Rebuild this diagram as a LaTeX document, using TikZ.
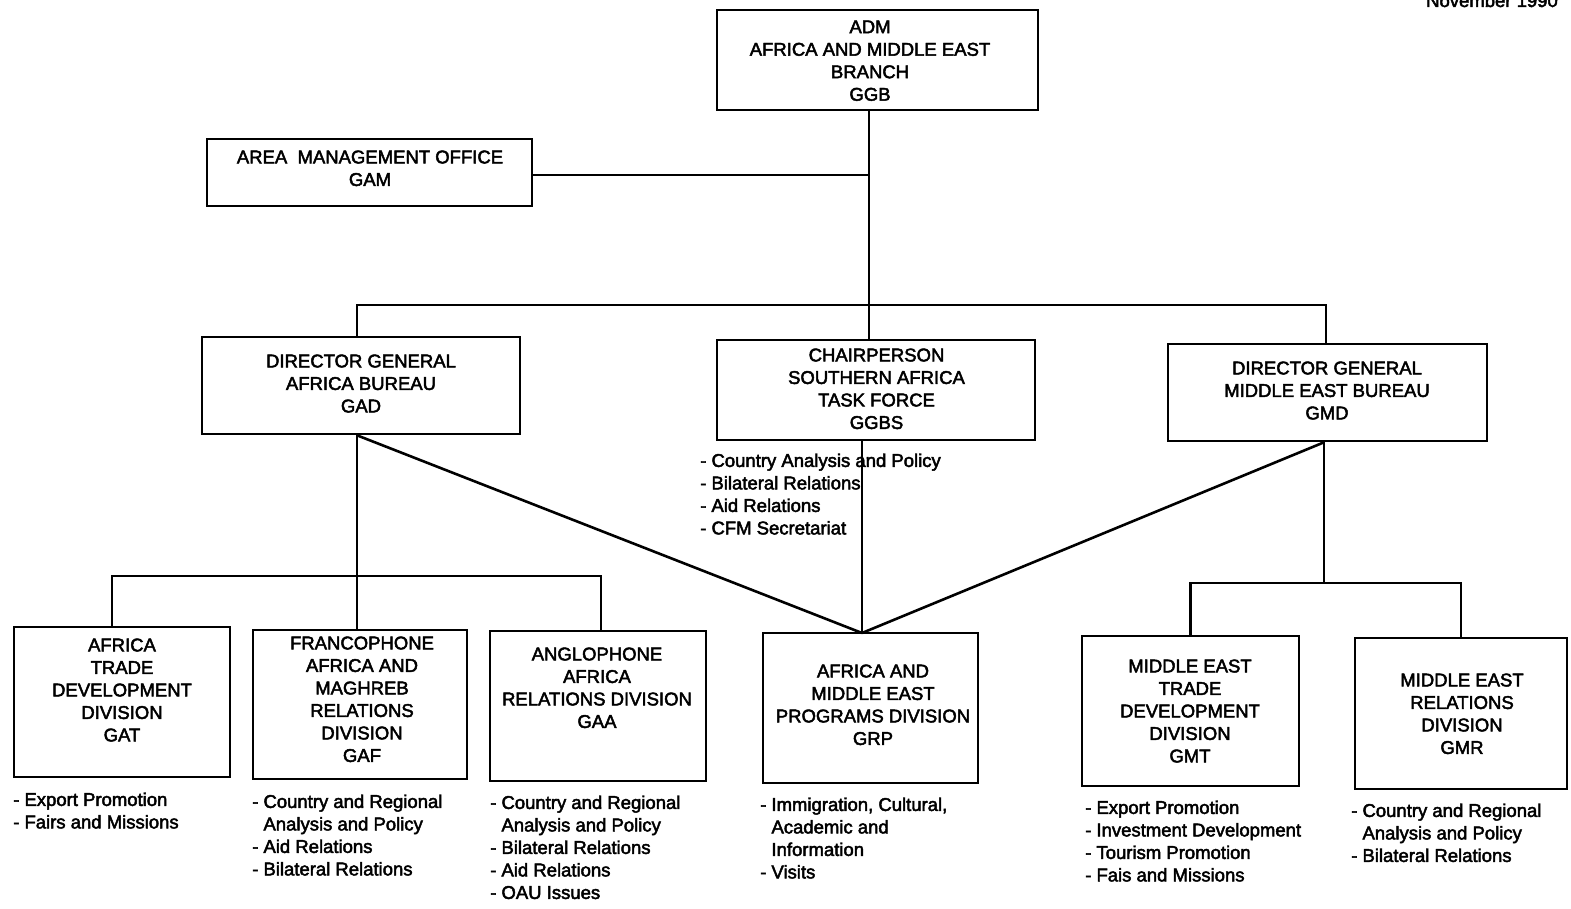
\documentclass[tikz,border=0pt]{standalone}
\usepackage{fontspec}
\setmainfont{Liberation Sans}[FakeBold=2.5]
\usetikzlibrary{calc}

\begin{document}
\begin{tikzpicture}[x=1pt, y=-1pt,
    box/.style={draw, line width=2.6pt, inner sep=0pt},
    boxtext/.style={align=center, inner sep=0pt, anchor=north, font=\fontsize{18.5}{22.5}\selectfont},
    duties/.style={align=left, inner sep=0pt, anchor=north west, font=\fontsize{18.5}{22.5}\selectfont},
    link/.style={line width=2.6pt}]
    \useasboundingbox (0,0) rectangle (1571,909);

    % Date
    \node[anchor=base east, inner sep=0pt, font=\fontsize{18.5}{22.5}\selectfont] (date) at (1558,7) {November 1990};

    % Branch and office
    \node[box, minimum width=321pt, minimum height=100pt] (adm) at (877.5,60) {};
    \node[boxtext] (adm-t) at (870,20.3) {ADM\\AFRICA AND MIDDLE EAST\\BRANCH\\GGB};
    \node[box, minimum width=325pt, minimum height=67pt] (gam) at (369.5,172.5) {};
    \node[boxtext] (gam-t) at (370,150.3) {AREA\ \ MANAGEMENT OFFICE\\GAM};

    % Bureaus
    \node[box, minimum width=318pt, minimum height=97pt] (gad) at (361,385.5) {};
    \node[boxtext] (gad-t) at (361,354.3) {DIRECTOR GENERAL\\AFRICA BUREAU\\GAD};
    \node[box, minimum width=318pt, minimum height=100pt] (ggbs) at (876,390) {};
    \node[boxtext] (ggbs-t) at (876.5,348.3) {CHAIRPERSON\\SOUTHERN AFRICA\\TASK FORCE\\GGBS};
    \node[box, minimum width=319pt, minimum height=97pt] (gmd) at (1327.5,392.5) {};
    \node[boxtext] (gmd-t) at (1327,361.3) {DIRECTOR GENERAL\\MIDDLE EAST BUREAU\\GMD};

    % Divisions
    \node[box, minimum width=216pt, minimum height=150pt] (gat) at (122,702) {};
    \node[boxtext] (gat-t) at (122,638.3) {AFRICA\\TRADE\\DEVELOPMENT\\DIVISION\\GAT};
    \node[box, minimum width=214pt, minimum height=149pt] (gaf) at (360,704.5) {};
    \node[boxtext] (gaf-t) at (362,636.3) {FRANCOPHONE\\AFRICA AND\\MAGHREB\\RELATIONS\\DIVISION\\GAF};
    \node[box, minimum width=216pt, minimum height=150pt] (gaa) at (598,706) {};
    \node[boxtext] (gaa-t) at (597,647.3) {ANGLOPHONE\\AFRICA\\RELATIONS DIVISION\\GAA};
    \node[box, minimum width=215pt, minimum height=150pt] (grp) at (870.5,708) {};
    \node[boxtext] (grp-t) at (873,664.3) {AFRICA AND\\MIDDLE EAST\\PROGRAMS DIVISION\\GRP};
    \node[box, minimum width=217pt, minimum height=150pt] (gmt) at (1190.5,711) {};
    \node[boxtext] (gmt-t) at (1190,659.3) {MIDDLE EAST\\TRADE\\DEVELOPMENT\\DIVISION\\GMT};
    \node[box, minimum width=212pt, minimum height=151pt] (gmr) at (1461,713.5) {};
    \node[boxtext] (gmr-t) at (1462,673.3) {MIDDLE EAST\\RELATIONS\\DIVISION\\GMR};

    % Duties
    \node[duties] (ggbs-d) at (700,453.3) {- Country Analysis and Policy\\- Bilateral Relations\\- Aid Relations\\- CFM Secretariat};
    \node[duties] (gat-d) at (13,792.3) {- Export Promotion\\- Fairs and Missions};
    \node[duties] (gaf-d) at (252,794.3) {- Country and Regional\\\phantom{- }Analysis and Policy\\- Aid Relations\\- Bilateral Relations};
    \node[duties] (gaa-d) at (490,795.3) {- Country and Regional\\\phantom{- }Analysis and Policy\\- Bilateral Relations\\- Aid Relations\\- OAU Issues};
    \node[duties] (grp-d) at (760,797.3) {- Immigration, Cultural,\\\phantom{- }Academic and\\\phantom{- }Information\\- Visits};
    \node[duties] (gmt-d) at (1085,800.3) {- Export Promotion\\- Investment Development\\- Tourism Promotion\\- Fais and Missions};
    \node[duties] (gmr-d) at (1351,803.3) {- Country and Regional\\\phantom{- }Analysis and Policy\\- Bilateral Relations};

    % Connection points
    \coordinate (spine) at (869,175);
    \coordinate (busL) at (357,305);
    \coordinate (busR) at (1326,305);
    \coordinate (abus) at (357,576);
    \coordinate (gat-in) at (112,576);
    \coordinate (gaa-in) at (601,576);
    \coordinate (mebus) at (1324,583);
    \coordinate (grp-in) at (862,633);

    % Upper lines
    \draw[link] (adm.south -| spine) -- (ggbs.north -| spine);
    \draw[link] (gam.east |- spine) -- (spine);
    \draw[link] (gad.north -| busL) -- (busL) -- (busR) -- (gmd.north -| busR);

    % Africa bureau lines
    \draw[link] (gad.south -| abus) -- (gaf.north -| abus);
    \draw[link] (gat.north -| gat-in) -- (gat-in) -- (gaa-in) -- (gaa.north -| gaa-in);

    % Middle East bureau lines
    \draw[link] (gmd.south -| mebus) -- (mebus);
    \draw[link] (gmt.north) |- (mebus) -| (gmr.north);

    % Lines to programs division
    \draw[link] (gad.south -| busL) -- (grp-in);
    \draw[link] (ggbs.south -| grp-in) -- (grp-in);
    \draw[link] (gmd.south -| mebus) -- (grp-in);
\end{tikzpicture}
\end{document}
